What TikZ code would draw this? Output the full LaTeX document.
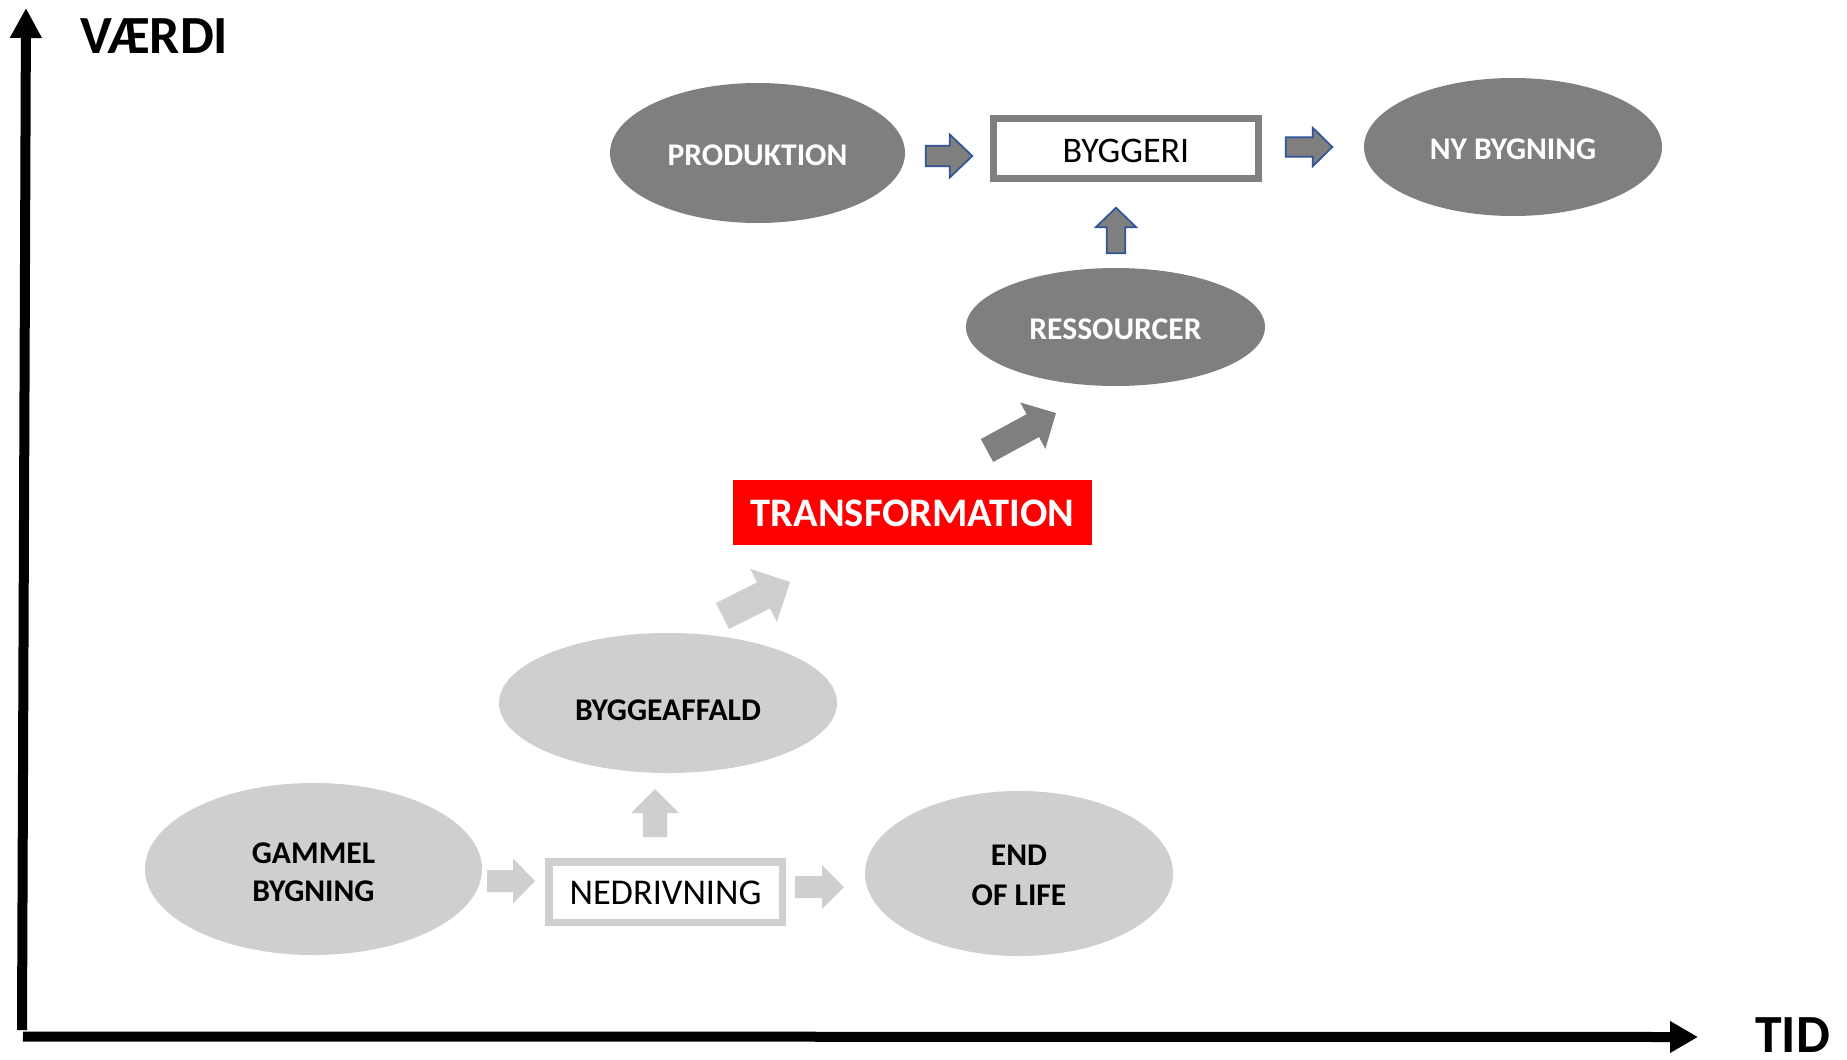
\documentclass[tikz,border=0pt]{standalone}
\usepackage{fontspec}
\setmainfont{Carlito}
\usetikzlibrary{arrows.meta,shapes.geometric}
\definecolor{dgray}{HTML}{7F7F7F}
\definecolor{lgray}{HTML}{D0CECE}
\definecolor{ablue}{HTML}{2F5597}
% #1 style, #2 tail coordinate, #3 angle, #4 length, #5 shaft half width, #6 head half width, #7 head length
\newcommand\blockarr[7]{%
  \draw[#1, shift={(#2)}, rotate=#3] (0,-#5) -- ({#4-#7},-#5) -- ({#4-#7},-#6) -- (#4,0)
    -- ({#4-#7},#6) -- ({#4-#7},#5) -- (0,#5) -- cycle;}
\begin{document}
\begin{tikzpicture}[x=1pt,y=-1pt,
  ell/.style={ellipse, inner sep=0pt},
  dell/.style={ell, fill=dgray},
  lell/.style={ell, fill=lgray},
  etext/.style={inner sep=0pt, align=center, font=\bfseries\fontsize{31.6}{38}\selectfont},
  wtext/.style={etext, text=white},
  btext/.style={etext, text=black},
  framebox/.style={fill=white, inner sep=0pt},
  ftext/.style={inner sep=0pt, text=black, font=\fontsize{36}{40}\selectfont},
  bluearr/.style={fill=dgray, draw=ablue, line width=1.7pt, line join=miter},
  darr/.style={fill=dgray, draw=none},
  larr/.style={fill=lgray, draw=none},
  axis/.style={line width=10pt, draw=black},
  axlabel/.style={anchor=base west, inner sep=0pt, font=\bfseries\fontsize{53.7}{60}\selectfont}]
\fill[white] (0,0) rectangle (1847,1060);
\useasboundingbox (0,0) rectangle (1847,1060);

% axes
\coordinate (yb) at (22,1030);
\coordinate (yt) at (26,8);
\coordinate (xl) at (23,1036.5);
\coordinate (xr) at (1698,1037);
\draw[axis, -{Triangle[width=30pt,length=30pt]}] (yb) -- (yt);
\draw[axis, -{Triangle[width=30pt,length=28pt]}] (xl) -- (xr);
\node[axlabel] (vaerdi) at (80,53) {VÆRDI};
\node[axlabel] (tid) at (1755,1052) {TID};

% top row
\node[dell, minimum width=295pt, minimum height=140pt] (prod) at (757.5,153) {};
\node[wtext] (prodt) at ([yshift=-2pt]prod.center) {PRODUKTION};
\node[framebox, draw=dgray, line width=6.7pt, minimum width=265.3pt, minimum height=60.3pt] (byg) at (1126,148.5) {};
\node[ftext] (bygt) at ([yshift=-2pt]byg.center) {BYGGERI};
\node[dell, minimum width=298pt, minimum height=138pt] (ny) at (1513,147) {};
\node[wtext] (nyt) at ([yshift=-2.5pt]ny.center) {NY BYGNING};
\node[dell, minimum width=299pt, minimum height=118pt] (ress) at (1115.5,327) {};
\node[wtext] (resst) at ([yshift=-2.5pt]ress.center) {RESSOURCER};
\node[fill=red, minimum width=359pt, minimum height=65pt, inner sep=0pt] (trans) at (912.5,512.5) {};
\node[inner sep=0pt, text=white, font=\bfseries\fontsize{40.5}{44}\selectfont] (transt) at ([yshift=-1pt]trans.center) {TRANSFORMATION};

% bottom part
\node[lell, minimum width=338pt, minimum height=140pt] (affald) at (668,703) {};
\node[btext] (affaldt) at ([yshift=-7pt]affald.center) {BYGGEAFFALD};
\node[lell, minimum width=337pt, minimum height=172pt] (gammel) at (313.5,869) {};
\node[btext] (gammelt) at ([yshift=-3.5pt]gammel.center) {GAMMEL\\BYGNING};
\node[framebox, draw=lgray, line width=7.5pt, minimum width=233.5pt, minimum height=60.5pt] (nedriv) at (665.5,892) {};
\node[ftext, font=\fontsize{36.3}{40}\selectfont] (nedrivt) at ([yshift=-0.5pt]nedriv.center) {NEDRIVNING};
\node[lell, minimum width=308pt, minimum height=165pt] (eol) at (1019,873.5) {};
\node[btext, font=\bfseries\fontsize{31.6}{40}\selectfont] (eolt) at ([yshift=-1.5pt]eol.center) {END\\OF LIFE};

% block arrows (tails)
\coordinate (a1) at (925.8,156);
\coordinate (a2) at (1285.8,147);
\coordinate (a3) at (1116,253.2);
\coordinate (a4) at (987,450.5);
\coordinate (a5) at (722.5,616);
\coordinate (a6) at (487,881);
\coordinate (a7) at (655,837);
\coordinate (a8) at (795,887);
\blockarr{bluearr}{a1}{0}{46.5}{10.2}{21.5}{22.5}
\blockarr{bluearr}{a2}{0}{46.5}{9.7}{19.2}{19.5}
\blockarr{bluearr}{a3}{90}{45.5}{9.2}{20.2}{19.5}
\blockarr{darr}{a4}{28.5}{78.5}{13}{26.4}{26.4}
\blockarr{larr}{a5}{26.7}{75.6}{14.5}{29.7}{29.7}
\blockarr{larr}{a6}{0}{48}{11}{22.5}{22}
\blockarr{larr}{a7}{90}{48}{12}{24}{24}
\blockarr{larr}{a8}{0}{49}{11}{22}{22}
\end{tikzpicture}
\end{document}
